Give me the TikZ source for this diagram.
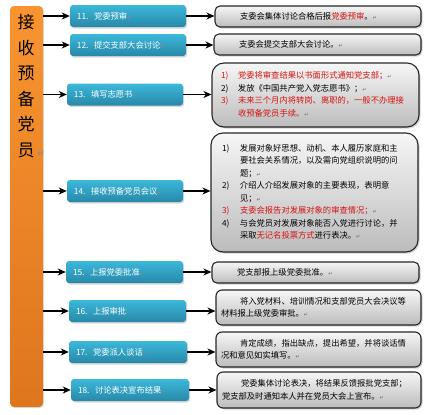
\documentclass[tikz,border=0pt]{standalone}
\usepackage{fontspec}
\setmainfont{Noto Sans CJK SC}
\newfontfamily\symfont{DejaVu Sans}
\usetikzlibrary{arrows.meta,shadows}
\XeTeXlinebreaklocale "zh"
\definecolor{rd}{RGB}{214,18,18}
\definecolor{orT}{RGB}{248,148,48}
\definecolor{orB}{RGB}{222,118,30}
\definecolor{blT}{RGB}{60,184,218}
\definecolor{blB}{RGB}{40,136,168}
\definecolor{grT}{RGB}{246,246,246}
\definecolor{grB}{RGB}{188,188,188}
\newcommand\parmk{{\symfont\fontsize{5}{5}\selectfont\textcolor{black!60}{↵}}}
\newcommand\bparmk{{\symfont\fontsize{4}{4}\selectfont\textcolor{red!60!white}{↵}}}
\newcommand\rtx[1]{\textcolor{rd}{#1}}
\begin{document}
\begin{tikzpicture}[x=1pt,y=-1pt,
  bar/.style={rounded corners=4pt,top color=orT,bottom color=orB,draw=none,
    drop shadow={shadow xshift=1pt,shadow yshift=-1pt,opacity=0.25}},
  bbox/.style={rounded corners=3pt,top color=blT,bottom color=blB,draw=none,
    drop shadow={shadow xshift=1.2pt,shadow yshift=-1.5pt,opacity=0.3},
    text=white,font=\fontsize{8.3}{10}\selectfont,align=left,
    inner xsep=7pt,inner ysep=0pt,minimum height=22pt},
  gbox/.style={rounded corners=5pt,top color=grT,bottom color=grB,draw=black!85,line width=1.1pt,
    drop shadow={shadow xshift=1.5pt,shadow yshift=-1.5pt,opacity=0.35},
    font=\fontsize{8.3}{12.5}\selectfont,align=left,inner xsep=5pt,inner ysep=0pt},
  big/.style={rounded corners=12pt},
  arr/.style={-{Stealth[length=8pt,width=7pt,inset=2.5pt]},line width=1.3pt,black}]
\useasboundingbox (0,0) rectangle (432,415);

% orange bar
\node[bar,minimum width=33pt,minimum height=401pt,inner sep=0pt] (bar) at (26.5,206.5) {};
\node[font=\fontsize{17}{25.6}\selectfont,align=center,inner sep=0pt,anchor=north] (title) at (26,14)
  {接\\收\\预\\备\\党\\员\rlap{\,{\symfont\fontsize{9}{9}\selectfont\textcolor{black!45}{↵}}}};

% blue step boxes
\node[bbox,text width=102pt] (b11) at (128,16) {11.\ \ 党委预审\bparmk};
\node[bbox,text width=102pt] (b12) at (128,45) {12.\ \ 提交支部大会讨论\bparmk};
\node[bbox,text width=102pt] (b13) at (125,94.5) {13.\ \ 填写志愿书\bparmk};
\node[bbox,text width=102pt] (b14) at (125,191) {14.\ \ 接收预备党员会议\bparmk};
\node[bbox,text width=103pt] (b15) at (124.5,272) {15.\ \ 上报党委批准\bparmk};
\node[bbox,text width=103pt] (b16) at (127.5,311) {16.\ \ 上报审批\bparmk};
\node[bbox,text width=104pt] (b17) at (128,352) {17.\ \ 党委派人谈话\bparmk};
\node[bbox,text width=104pt] (b18) at (130,390) {18.\ \ 讨论表决宣布结果\bparmk};

% gray description boxes
\node[gbox,text width=196pt,minimum height=21pt] (g1) at (318,16.5)
  {\hspace*{20pt}支委会集体讨论合格后报\rtx{党委预审}。\parmk};
\node[gbox,text width=197pt,minimum height=21pt] (g2) at (317.5,44.5)
  {\hspace*{20pt}支委会提交支部大会讨论。\parmk};
\node[gbox,big,text width=197pt,minimum height=64pt] (g3) at (315.5,95)
  {\hspace*{4pt}\begin{tabular}{@{}p{12pt}@{\hspace{5pt}}l@{}}
   \rtx{1)} & \rtx{党委将审查结果以书面形式通知党支部；}\parmk\\
   2) & 发放《中国共产党入党志愿书》；\parmk\\
   \rtx{3)} & \rtx{未来三个月内将转岗、离职的，一般不办理接}\\
    & \rtx{收预备党员手续。}\parmk
  \end{tabular}};
\node[gbox,big,text width=197pt,minimum height=119pt] (g4) at (314.5,192.5)
  {\hspace*{6pt}\begin{tabular}{@{}p{12pt}@{\hspace{6pt}}l@{}}
   1) & 发展对象好思想、动机、本人履历家庭和主\\
    & 要社会关系情况，以及需向党组织说明的问\\
    & 题；\parmk\\
   2) & 介绍人介绍发展对象的主要表现，表明意\\
    & 见；\parmk\\
   \rtx{3)} & \rtx{支委会报告对发展对象的审查情况；}\parmk\\
   4) & 与会党员对发展对象能否入党进行讨论，并\\
    & 采取\rtx{无记名投票方式}进行表决。\parmk
  \end{tabular}};
\node[gbox,text width=197pt,minimum height=21pt] (g5) at (315.5,272.5)
  {\hspace*{20pt}党支部报上级党委批准。\parmk};
\node[gbox,big,rounded corners=6pt,text width=195pt,minimum height=35pt] (g6) at (318.5,307.5)
  {\hspace*{19pt}将入党材料、培训情况和支部党员大会决议等\\材料报上级党委审批。\parmk};
\node[gbox,rounded corners=6pt,text width=195pt,minimum height=35pt] (g7) at (318.5,349.5)
  {\hspace*{19pt}肯定成绩，指出缺点，提出希望，并将谈话情\\况和意见如实填写。\parmk};
\node[gbox,rounded corners=6pt,text width=194pt,minimum height=36pt] (g8) at (319,390)
  {\hspace*{19pt}党委集体讨论表决，将结果反馈报批党支部；\\党支部及时通知本人并在党员大会上宣布。\parmk};

% arrows bar -> steps
\foreach \b in {b11,b12,b13,b14,b15,b16,b17,b18}
  \draw[arr] (bar.east |- \b.west) -- (\b.west);
% arrows steps -> descriptions
\foreach \b/\g in {b11/g1,b12/g2,b13/g3,b14/g4,b15/g5,b16/g6,b17/g7,b18/g8}
  \draw[arr] (\b.east) -- (\b.east -| \g.west);
\end{tikzpicture}
\end{document}
